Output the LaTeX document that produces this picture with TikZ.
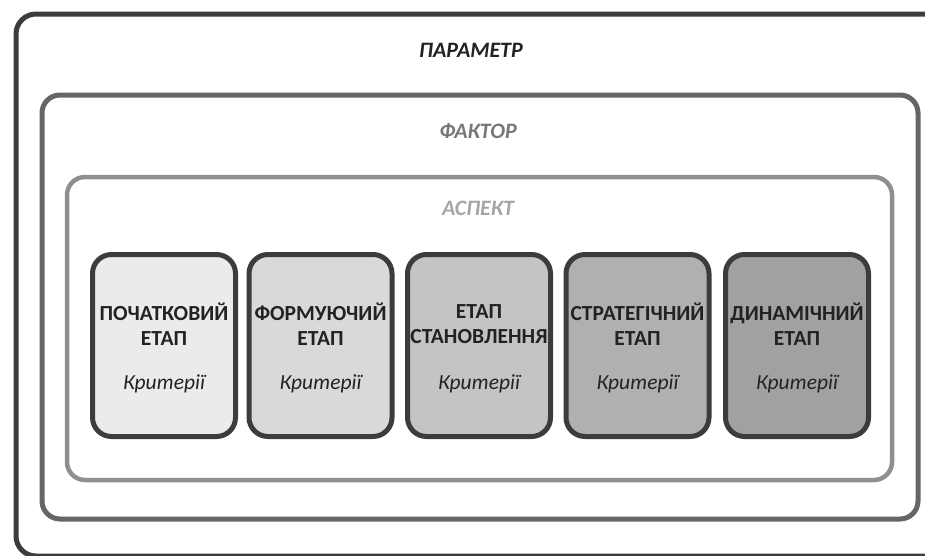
\documentclass[tikz,border=0pt]{standalone}
\usepackage{fontspec}
\setmainfont{Carlito}
\usetikzlibrary{positioning}

\definecolor{darkline}{HTML}{3C3C3C}
\definecolor{midline}{HTML}{666666}
\definecolor{lightline}{HTML}{8F8F8F}
\definecolor{inktext}{HTML}{222222}

\begin{document}
\begin{tikzpicture}
  [
  x=1pt, y=-1pt,
  font=\fontsize{22}{26}\selectfont, line width=5pt,
  frame/.style={draw, rounded corners=20pt},
  heading/.style={font=\fontsize{22}{26}\selectfont\bfseries\itshape, inner sep=0pt},
  stagebox/.style={rectangle, rounded corners=19pt, minimum width=143pt, minimum height=182pt, draw=darkline, line width=5pt},
  stagename/.style={align=center, font=\fontsize{21.5}{25}\selectfont\bfseries, text=inktext, inner sep=0pt},
  criteria/.style={font=\fontsize{21.5}{25}\selectfont\itshape, text=inktext, inner sep=0pt}
  ]
\useasboundingbox (0,0) rectangle (925,555);

% nested frames
\draw[frame, draw=darkline] (16,14) rectangle (960,556);
\draw[frame, draw=midline, rounded corners=18pt] (42,95) rectangle (918,519);
\draw[frame, draw=lightline, line width=4.5pt, rounded corners=18pt] (67,177) rectangle (892,480);

\node[heading, text=inktext] (parameter) at (471,50) {ПАРАМЕТР};
\node[heading, text=black!53] (factor) at (478,131) {ФАКТОР};
\node[heading, text=black!35] (aspect) at (478,208) {АСПЕКТ};

% stages
\foreach \s/\x/\shade/\name in {1/164/92/ПОЧАТКОВИЙ\\ЕТАП,
                                2/320.5/85/ФОРМУЮЧИЙ\\ЕТАП,
                                3/479/77/ЕТАП\\СТАНОВЛЕННЯ,
                                4/637.5/69/СТРАТЕГІЧНИЙ\\ЕТАП,
                                5/797/63/ДИНАМІЧНИЙ\\ЕТАП} {
  \node[stagebox, fill=white!\shade!black] (stage\s) at (\x,345.5) {};
  \node[stagename] (name\s) at (\x,324) {\name};
  \node[criteria] (crit\s) at (\x,384) {Критерії};
}
\end{tikzpicture}
\end{document}
